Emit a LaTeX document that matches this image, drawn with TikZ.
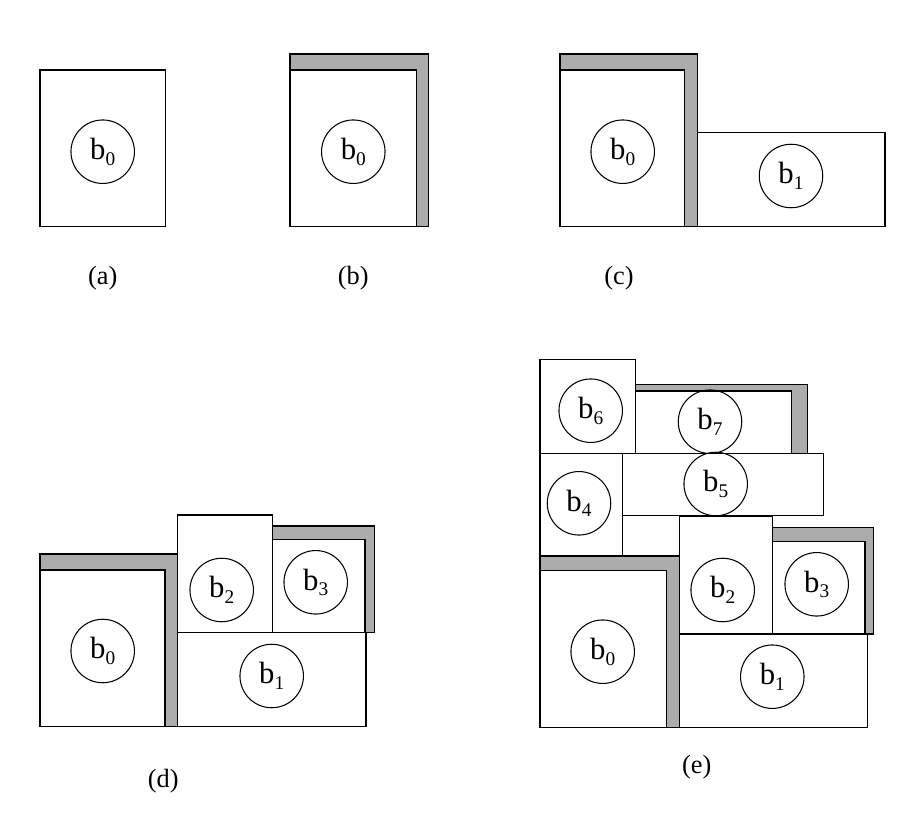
\documentclass[tikz,border=0pt]{standalone}
\usepackage{fontspec}
\setmainfont{Liberation Serif}
\newcommand\blk[1]{b\raisebox{-0.4ex}{\fontsize{11}{11}\selectfont #1}}

\begin{document}
\begin{tikzpicture}[
      x = 0.02cm, y = -0.02cm,
      every node/.style = {font = \fontsize{17.5}{19}\selectfont},
      disc/.style = {
        circle, draw, black, line width = .6pt,
        minimum size = 1.27cm, inner sep = 0pt},
      caption/.style = {font = \fontsize{15}{17}\selectfont},
      box/.style = {draw, fill = white, line width = .7pt},
      wall/.style = {draw, fill = gray!65, line width = .7pt}
      ]
    \useasboundingbox (0,0) rectangle (907,815);

    % (a)
    \draw[box] (40,70) rectangle (165.7,226.7);
    \node[disc] (A0) at (102.7,151.7) {\blk0}; % 0
    \node[caption] (La) at (102.7,278) {(a)};

    % (b)
    \draw[wall] (290,54) rectangle (428.3,226.7);
    \draw[box] (290,70) rectangle (416.7,226.7);
    \node[disc] (B0) at (353.3,151.7) {\blk0}; % 0
    \node[caption] (Lb) at (353.3,278) {(b)};

    % (c)
    \draw[wall] (560,54) rectangle (697.7,226.7);
    \draw[box] (560,70) rectangle (684.3,226.7);
    \draw[box] (697.7,132.3) rectangle (885,226.7);
    \node[disc] (C0) at (622.7,151.7) {\blk0}; % 0
    \node[disc] (C1) at (791,176) {\blk1}; % 1
    \node[caption] (Lc) at (619,278) {(c)};

    % (d)
    \draw[wall] (40,554) rectangle (177.3,726.7);
    \draw[box] (40,570) rectangle (165,726.7);
    \draw[box] (177.3,632.7) rectangle (366,726.7);
    \draw[box] (177.3,515) rectangle (272.3,632.7);
    \draw[wall] (272.3,526) rectangle (374.3,632.7);
    \draw[box] (272.3,539.3) rectangle (365,632.7);
    \node[disc] (D0) at (102.7,651) {\blk0}; % 0
    \node[disc] (D1) at (271.7,676) {\blk1}; % 1
    \node[disc] (D2) at (221.7,590) {\blk2}; % 2
    \node[disc] (D3) at (315.7,582.3) {\blk3}; % 3
    \node[caption] (Ld) at (163.3,781) {(d)};

    % (e)
    \draw[wall] (540,556) rectangle (679.3,727.3);
    \draw[box] (540,570.7) rectangle (666.7,727.3);
    \draw[box] (679.3,634) rectangle (867.3,727.3);
    \draw[box] (679.3,516.7) rectangle (772.3,634);
    \draw[wall] (772.3,527.7) rectangle (873.3,634);
    \draw[box] (772.3,541.7) rectangle (865,634);
    \draw[box] (540,453.3) rectangle (622.3,556);
    \draw[box] (622.3,453.3) rectangle (823.3,515.7);
    \draw[box] (540,359.3) rectangle (635.7,453.3);
    \draw[wall] (635.7,384.3) rectangle (807.3,453.3);
    \draw[box] (635.7,391) rectangle (791.7,453.3);
    \node[disc] (E0) at (602.7,651.7) {\blk0}; % 0
    \node[disc] (E1) at (772.3,676.7) {\blk1}; % 1
    \node[disc] (E2) at (722.7,590) {\blk2}; % 2
    \node[disc] (E3) at (816.7,584.3) {\blk3}; % 3
    \node[disc] (E4) at (579,503.3) {\blk4}; % 4
    \node[disc] (E5) at (715.7,484) {\blk5}; % 5
    \node[disc] (E6) at (590.7,410.7) {\blk6}; % 6
    \node[disc] (E7) at (710,421.7) {\blk7}; % 7
    \node[caption] (Le) at (696.7,766.7) {(e)};
  \end{tikzpicture}
\end{document}
